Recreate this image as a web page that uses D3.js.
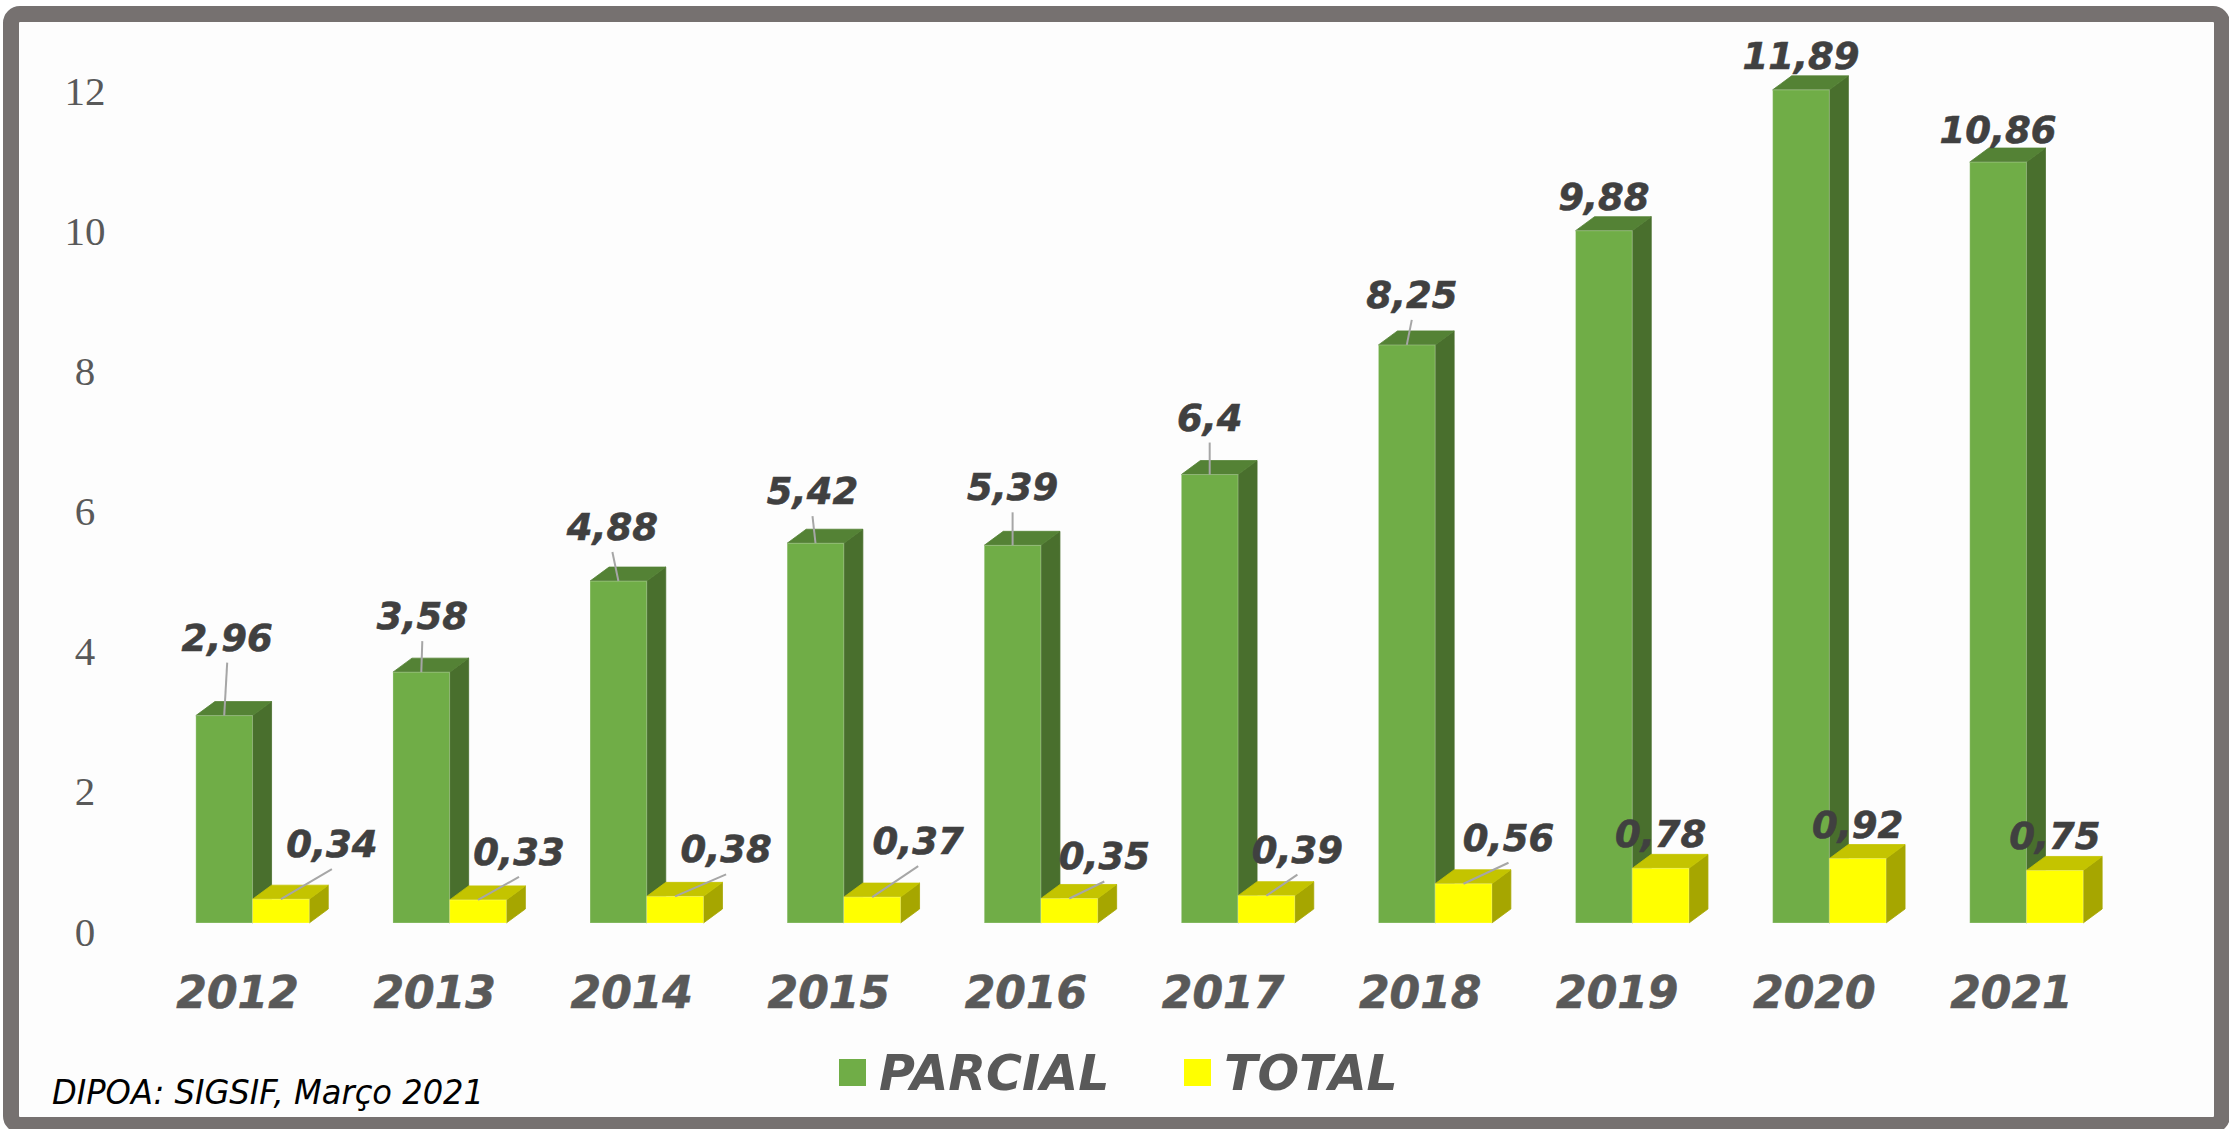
<!DOCTYPE html>
<html>
<head>
<meta charset="utf-8">
<script src="https://cdn.jsdelivr.net/npm/d3@7"></script>
<style>
  body { margin: 0; background: #ffffff; }
  svg { display: block; }
</style>
</head>
<body>
<div id="chart"></div>
<script>
"use strict";

// data
const years = ["2012", "2013", "2014", "2015", "2016", "2017", "2018", "2019", "2020", "2021"];
const parcial = [2.96, 3.58, 4.88, 5.42, 5.39, 6.4, 8.25, 9.88, 11.89, 10.86];
const total = [0.34, 0.33, 0.38, 0.37, 0.35, 0.39, 0.56, 0.78, 0.92, 0.75];
const seriesNames = ["PARCIAL", "TOTAL"];
const yTicks = [0, 2, 4, 6, 8, 10, 12];
const sourceText = "DIPOA: SIGSIF, Março 2021";

// the labels were dragged around by hand in the original, these are the nudges [dx, dy]
const parcialNudge = [[3, -78], [1, -56], [-6, -54], [-3, -52], [0, -58], [0, -57], [5, -50], [0, -34], [0, -34], [0, -32]];
const totalNudge = [[51, -55], [41, -48], [51, -47], [46, -56], [35, -42], [31, -46], [45, -46], [0, -34], [0, -34], [0, -34]];

const W = 2229, H = 1129;
const DX = 19, DY = 14; // 3d depth of the columns

const colors = {
    PARCIAL: { front: "#70AD47", top: "#548235", side: "#496F2D" },
    TOTAL: { front: "#FFFF00", top: "#C4C400", side: "#A6A600" }
};

const svg = d3.select("#chart").append("svg")
    .attr("width", W)
    .attr("height", H);

// frame
svg.append("rect")
    .attr("x", 11).attr("y", 14)
    .attr("width", 2211).attr("height", 1111)
    .attr("rx", 9)
    .style("fill", "#fdfdfd")
    .style("stroke", "#767170")
    .style("stroke-width", 16);

const x = d3.scaleBand()
    .domain(years)
    .range([154, 2125])
    .paddingInner(0.4246)
    .paddingOuter(0.2123);

const xs = d3.scaleBand()
    .domain(seriesNames)
    .range([0, x.bandwidth()]);

const y = d3.scaleLinear()
    .domain([0, 12])
    .range([923, 923 - 12 * 70.07]);

// y axis, labels only
const yAxis = svg.append("g")
    .attr("transform", "translate(85,9)")
    .call(d3.axisLeft(y).tickValues(yTicks).tickSize(0).tickPadding(0));
yAxis.select(".domain").remove();
yAxis.selectAll("text")
    .attr("x", 0)
    .attr("text-anchor", "middle")
    .style("font-family", "'Liberation Serif', 'DejaVu Serif', serif")
    .style("font-size", "41px")
    .style("fill", "#595959");

// year labels
const xAxis = svg.append("g")
    .attr("transform", "translate(-15,1008)")
    .call(d3.axisBottom(x).tickSize(0).tickPadding(0));
xAxis.select(".domain").remove();
xAxis.selectAll("text")
    .attr("y", 0)
    .attr("dy", 0)
    .style("font-family", "'DejaVu Sans', Verdana, sans-serif")
    .style("font-weight", "bold")
    .style("font-style", "italic")
    .style("font-size", "44px")
    .style("fill", "#595959")
    .style("stroke", "#595959")
    .style("stroke-width", 0.6);

// build bar list
let bars = [];
years.forEach(function(yr, i) {
    bars.push({ year: yr, name: "PARCIAL", value: parcial[i], nudge: parcialNudge[i] });
    bars.push({ year: yr, name: "TOTAL", value: total[i], nudge: totalNudge[i] });
});
bars.forEach(function(d) {
    d.x0 = x(d.year) + xs(d.name);
    d.x1 = d.x0 + xs.bandwidth();
    d.y0 = y(0);
    d.y1 = y(d.value);
});

function poly(pts) {
    return pts.map(function(p) { return p.join(","); }).join(" ");
}

const barG = svg.append("g").attr("id", "bars");
const barEls = barG.selectAll("g.bar")
    .data(bars)
    .enter()
    .append("g")
    .attr("class", "bar");

// side face
barEls.append("polygon")
    .attr("points", function(d) {
        return poly([[d.x1, d.y1], [d.x1 + DX, d.y1 - DY], [d.x1 + DX, d.y0 - DY], [d.x1, d.y0]]);
    })
    .style("fill", function(d) { return colors[d.name].side; })
    .style("stroke", function(d) { return colors[d.name].side; })
    .style("stroke-width", 0.8);

// top face
barEls.append("polygon")
    .attr("points", function(d) {
        return poly([[d.x0, d.y1], [d.x0 + DX, d.y1 - DY], [d.x1 + DX, d.y1 - DY], [d.x1, d.y1]]);
    })
    .style("fill", function(d) { return colors[d.name].top; })
    .style("stroke", function(d) { return colors[d.name].top; })
    .style("stroke-width", 0.8);

// front face
barEls.append("rect")
    .attr("x", function(d) { return d.x0; })
    .attr("y", function(d) { return d.y1; })
    .attr("width", function(d) { return d.x1 - d.x0; })
    .attr("height", function(d) { return d.y0 - d.y1; })
    .style("fill", function(d) { return colors[d.name].front; })
    .style("stroke", "rgba(255,255,255,0.25)")
    .style("stroke-width", 1);

// leader lines for labels that were moved away
const labelG = svg.append("g").attr("id", "labels");
labelG.selectAll("line.leader")
    .data(bars.filter(function(d) { return d.nudge[1] < -38 || d.nudge[0] > 10; }))
    .enter()
    .append("line")
    .attr("class", "leader")
    .attr("x1", function(d) { return (d.x0 + d.x1) / 2 + d.nudge[0]; })
    .attr("y1", function(d) { return d.y1 + d.nudge[1] + 25; })
    .attr("x2", function(d) { return (d.x0 + d.x1) / 2; })
    .attr("y2", function(d) { return d.y1; })
    .style("stroke", "#A6A6A6")
    .style("stroke-width", 2);

labelG.selectAll("text.val")
    .data(bars)
    .enter()
    .append("text")
    .attr("class", "val")
    .attr("x", function(d) { return (d.x0 + d.x1) / 2 + d.nudge[0]; })
    .attr("y", function(d) { return d.y1 + d.nudge[1] + 13; })
    .attr("text-anchor", "middle")
    .text(function(d) { return String(d.value).replace(".", ","); })
    .style("font-family", "'DejaVu Sans', Verdana, sans-serif")
    .style("font-weight", "bold")
    .style("font-style", "italic")
    .style("font-size", "37px")
    .style("fill", "#404040")
    .style("stroke", "#404040")
    .style("stroke-width", 0.6);

// legend
const legend = svg.append("g").attr("id", "legend");
const legendX = [839, 1184];
seriesNames.forEach(function(name, i) {
    legend.append("rect")
        .attr("x", legendX[i]).attr("y", 1059)
        .attr("width", 27).attr("height", 27)
        .style("fill", colors[name].front);
    legend.append("text")
        .attr("x", legendX[i] + 40).attr("y", 1090)
        .text(name)
        .style("font-family", "'DejaVu Sans', Verdana, sans-serif")
        .style("font-weight", "bold")
        .style("font-style", "italic")
        .style("font-size", "49px")
        .style("fill", "#595959");
});

// source note
svg.append("text")
    .attr("x", 52).attr("y", 1104)
    .attr("textLength", 432)
    .attr("lengthAdjust", "spacingAndGlyphs")
    .text(sourceText)
    .style("font-family", "'DejaVu Sans', Verdana, sans-serif")
    .style("font-style", "italic")
    .style("font-size", "33px")
    .style("fill", "#000000");
</script>
</body>
</html>
